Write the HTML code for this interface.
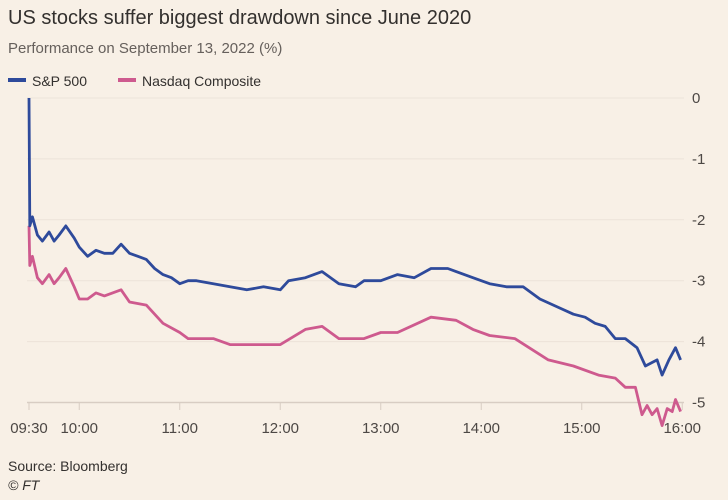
<!DOCTYPE html>
<html><head><meta charset="utf-8"><style>
body{margin:0;background:#f8f0e6;font-family:"Liberation Sans",sans-serif;}
svg{display:block}
</style></head><body>
<svg width="728" height="500" id="c">
<text x="8" y="24" font-size="20" fill="#33302e">US stocks suffer biggest drawdown since June 2020</text>
<text x="8" y="53" font-size="15" fill="#66605c">Performance on September 13, 2022 (%)</text>
<g>
<rect x="8" y="78" width="18" height="4" fill="#2e4a9b"/>
<text x="32" y="86" font-size="14" fill="#33302e">S&amp;P 500</text>
<rect x="118" y="78" width="18" height="4" fill="#ce5a8e"/>
<text x="142" y="86" font-size="14" fill="#33302e">Nasdaq Composite</text>
</g>
<g id="grid"></g><g id="lines"></g>
<text x="8" y="471" font-size="14" fill="#33302e">Source: Bloomberg</text>
<text x="8" y="490" font-size="14" font-style="italic" fill="#33302e">© FT</text>
</svg>
<script>
const yTicks=[0,-1,-2,-3,-4,-5];
const xTickMins=[0,30,90,150,210,270,330,390];
const xTickLabels=["09:30","10:00","11:00","12:00","13:00","14:00","15:00","16:00"];
const spTimes=[0,0.5,2,5,8,12,15,18,22,27,30,35,40,45,50,55,60,65,70,75,80,85,90,95,100,110,120,130,140,150,155,165,175,185,195,200,210,220,230,240,250,255,265,275,285,295,305,317,325,332,338,344,350,356,363,368,375,378,382,386,389];
const spVals=[0,-2.1,-1.95,-2.25,-2.35,-2.2,-2.35,-2.25,-2.1,-2.3,-2.45,-2.6,-2.5,-2.55,-2.55,-2.4,-2.55,-2.6,-2.65,-2.8,-2.9,-2.95,-3.05,-3.0,-3.0,-3.05,-3.1,-3.15,-3.1,-3.15,-3.0,-2.95,-2.85,-3.05,-3.1,-3.0,-3.0,-2.9,-2.95,-2.8,-2.8,-2.85,-2.95,-3.05,-3.1,-3.1,-3.3,-3.45,-3.55,-3.6,-3.7,-3.75,-3.95,-3.95,-4.1,-4.4,-4.3,-4.55,-4.3,-4.1,-4.3];
const ndTimes=[0,0.5,2,5,8,12,15,18,22,27,30,35,40,45,55,60,70,80,90,95,110,120,135,150,165,175,185,200,210,220,240,255,265,275,290,310,325,340,350,356,362,366,369,372,375,378,381,384,386,389];
const ndVals=[-2.1,-2.75,-2.6,-2.95,-3.05,-2.9,-3.05,-2.95,-2.8,-3.1,-3.3,-3.3,-3.2,-3.25,-3.15,-3.35,-3.4,-3.7,-3.85,-3.95,-3.95,-4.05,-4.05,-4.05,-3.8,-3.75,-3.95,-3.95,-3.85,-3.85,-3.6,-3.65,-3.8,-3.9,-3.95,-4.3,-4.4,-4.55,-4.6,-4.75,-4.75,-5.2,-5.05,-5.2,-5.1,-5.38,-5.1,-5.15,-4.95,-5.15];
const X=t=>29+t*100.5/60, Y=v=>98-v*60.9;
const NS="http://www.w3.org/2000/svg";
const g=document.getElementById('grid'), L=document.getElementById('lines');
yTicks.forEach(v=>{
 const l=document.createElementNS(NS,'line');
 
 
 l.setAttribute('x1',27);l.setAttribute('x2',684);l.setAttribute('y1',Y(v));l.setAttribute('y2',Y(v));
 l.setAttribute('stroke',v===-5?'#d8cdc3':'#ece3d9');l.setAttribute('stroke-width',v===-5?1.5:1);g.appendChild(l);
 const t=document.createElementNS(NS,'text');
 
 
 t.setAttribute('x',692);t.setAttribute('y',Y(v)+5);t.setAttribute('font-size','15');t.setAttribute('fill','#4d4845');
 t.textContent=v===0?'0':'-'+Math.abs(v);g.appendChild(t);
});
xTickMins.forEach((m,i)=>{
 const l=document.createElementNS(NS,'line');
 
 
 l.setAttribute('x1',X(m));l.setAttribute('x2',X(m));l.setAttribute('y1',403);l.setAttribute('y2',410);
 l.setAttribute('stroke','#d8cdc3');g.appendChild(l);
 const t=document.createElementNS(NS,'text');
 
 
 t.setAttribute('x',X(m));t.setAttribute('y',433);t.setAttribute('font-size','15');t.setAttribute('fill','#4d4845');
 t.setAttribute('text-anchor','middle');t.textContent=xTickLabels[i];g.appendChild(t);
});
function line(ts,vs,col,name){
 const p=document.createElementNS(NS,'path');
 
 
 p.setAttribute('d',ts.map((t,i)=>(i?'L':'M')+X(t).toFixed(1)+','+Y(vs[i]).toFixed(1)).join(''));
 p.setAttribute('fill','none');p.setAttribute('stroke',col);p.setAttribute('stroke-width','2.8');p.setAttribute('stroke-linejoin','round');
 L.appendChild(p);
}
line(ndTimes,ndVals,'#ce5a8e','nasdaq-line');
line(spTimes,spVals,'#2e4a9b','sp500-line');
</script>
</body></html>
